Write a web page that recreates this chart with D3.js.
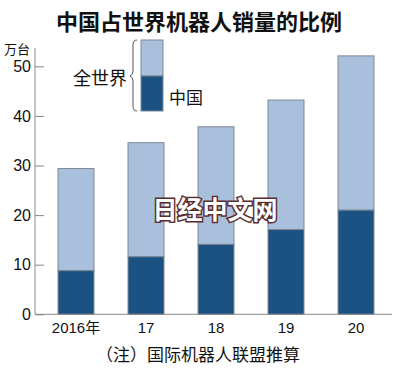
<!DOCTYPE html>
<html><head><meta charset="utf-8">
<script src="https://cdn.jsdelivr.net/npm/d3@7"></script>
<style>body{margin:0;background:#fff}svg{display:block}</style>
</head><body>
<svg id="c" width="400" height="370"></svg>
<script>
const categories = ["2016年", "17", "18", "19", "20"];
const worldValues = [29.4, 34.6, 37.8, 43.2, 52.1];
const chinaValues = [8.8, 11.6, 14.1, 17.1, 21.0];
const yTicks = [0, 10, 20, 30, 40, 50];

const svg = d3.select("#c");
const cjk = "'Noto Sans CJK SC','Noto Sans CJK JP',sans-serif";
const num = "'Liberation Sans Narrow','Liberation Sans',Arial,sans-serif";
const light = "#a9c0dd", dark = "#1b5282", edge = "#7d8896";

const y = d3.scaleLinear().domain([0, 50]).range([314.3, 66.3]);
const x = d3.scaleBand().domain(categories).range([41, 391]).paddingInner(0.486).paddingOuter(0.243);

// title
svg.append("text").attr("x", 199).attr("y", 30).attr("text-anchor", "middle")
  .style("font-family", cjk).style("font-weight", "bold").style("font-size", "22px")
  .attr("fill", "#111").text("中国占世界机器人销量的比例");

// bars
const g = svg.append("g");
categories.forEach((c, i) => {
  g.append("rect").attr("x", x(c)).attr("width", x.bandwidth())
    .attr("y", y(worldValues[i])).attr("height", y(chinaValues[i]) - y(worldValues[i]))
    .attr("fill", light).attr("stroke", edge).attr("stroke-width", 1);
  g.append("rect").attr("x", x(c)).attr("width", x.bandwidth())
    .attr("y", y(chinaValues[i])).attr("height", y(0) - y(chinaValues[i]))
    .attr("fill", dark).attr("stroke", edge).attr("stroke-width", 1);
});

// y axis
const ya = svg.append("g").attr("transform", "translate(35,0)")
  .call(d3.axisLeft(y).tickValues(yTicks).tickSizeInner(-9).tickSizeOuter(0).tickPadding(4));
ya.select(".domain").remove();
ya.selectAll(".tick line").attr("stroke", "#888");
ya.selectAll(".tick text").style("font-family", num).style("font-size", "16px").attr("fill", "#111");
svg.append("line").attr("x1", 35).attr("x2", 35).attr("y1", 48).attr("y2", y(0)).attr("stroke", "#888");
svg.append("text").attr("x", 4).attr("y", 54).style("font-family", cjk).style("font-size", "13px")
  .attr("fill", "#111").text("万台");

// x axis
const xa = svg.append("g").attr("transform", `translate(0,${y(0)})`)
  .call(d3.axisBottom(x).tickSize(0).tickPadding(8));
xa.select(".domain").remove();
xa.selectAll(".tick text").style("font-family", num + "," + cjk).style("font-size", "15px").attr("fill", "#111");
svg.append("line").attr("x1", 35).attr("x2", 392).attr("y1", y(0)).attr("y2", y(0)).attr("stroke", "#888");

// legend
const lg = svg.append("g");
lg.append("rect").attr("x", 141).attr("y", 40).attr("width", 22).attr("height", 36)
  .attr("fill", light).attr("stroke", edge);
lg.append("rect").attr("x", 141).attr("y", 76).attr("width", 22).attr("height", 35)
  .attr("fill", dark).attr("stroke", edge);
lg.append("path").attr("d", "M137,40 Q133,40 133,45 L133,71 Q133,75 130,76 Q133,77 133,81 L133,106 Q133,111 137,111")
  .attr("fill", "none").attr("stroke", "#555").attr("stroke-width", 1);
lg.append("text").attr("x", 73).attr("y", 85).style("font-family", cjk).style("font-size", "18px")
  .attr("fill", "#111").text("全世界");
lg.append("text").attr("x", 169).attr("y", 104).style("font-family", cjk).style("font-size", "17px")
  .attr("fill", "#111").text("中国");

// watermark
svg.append("text").attr("x", 215).attr("y", 219).attr("text-anchor", "middle")
  .style("font-family", cjk).style("font-weight", "bold").style("font-size", "25px")
  .attr("fill", "#fff").attr("stroke", "#5a2e2e").attr("stroke-width", 3).attr("paint-order", "stroke")
  .text("日经中文网");

// footnote
svg.append("text").attr("x", 198).attr("y", 361).attr("text-anchor", "middle")
  .style("font-family", cjk).style("font-size", "17px").attr("fill", "#111")
  .text("（注）国际机器人联盟推算");
</script>
</body></html>
